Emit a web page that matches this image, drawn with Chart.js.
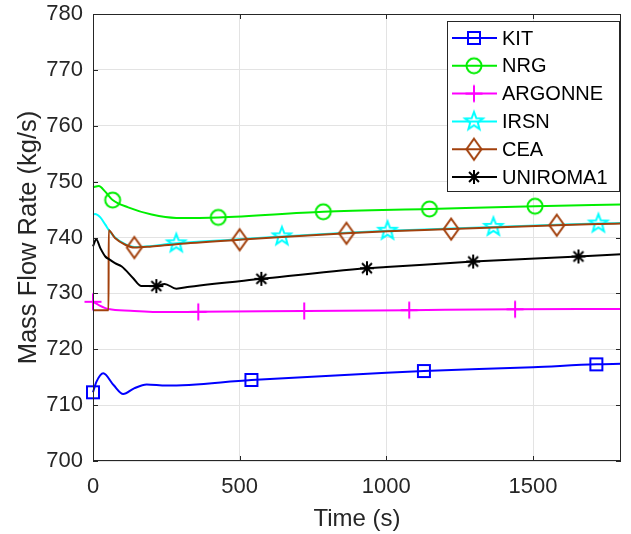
<!DOCTYPE html>
<html>
<head>
<meta charset="utf-8">
<script src="https://cdn.jsdelivr.net/npm/chart.js@4"></script>
<style>
  html, body { margin: 0; padding: 0; background: #fff; }
  #wrap { width: 631px; height: 534px; }
</style>
</head>
<body>
<div id="wrap"><canvas id="flowChart" width="631" height="534"></canvas></div>
<script>
const xTicks = [0, 500, 1000, 1500];
const yTicks = [700, 710, 720, 730, 740, 750, 760, 770, 780];

const kitT = [0, 12, 35, 70, 103, 140, 183, 250, 540, 1000, 1128, 1500, 1716, 1800];
const kitY = [712.3, 714.2, 715.7, 713.6, 712.0, 713.0, 713.7, 713.5, 714.5, 715.8, 716.1, 716.8, 717.3, 717.4];
const kitMarks = [0, 540, 1128, 1716];

const nrgT = [0, 20, 40, 67, 120, 200, 284, 427, 785, 1147, 1507, 1800];
const nrgY = [749.0, 749.2, 748.3, 746.7, 745.4, 744.1, 743.5, 743.6, 744.6, 745.1, 745.6, 745.9];
const nrgMarks = [67, 427, 785, 1147, 1507];

const argT = [0, 20, 53, 127, 250, 359, 720, 1078, 1439, 1800];
const argY = [728.5, 727.9, 727.2, 726.9, 726.65, 726.7, 726.85, 727.0, 727.15, 727.2];
const argMarks = [0, 359, 720, 1078, 1439];

const irsnT = [0, 7, 25, 42, 53, 75, 110, 141, 284, 500, 644, 864, 1004, 1221, 1365, 1581, 1723, 1800];
const irsnY = [744.1, 744.2, 743.6, 742.3, 741.4, 740.0, 738.8, 738.3, 738.95, 739.7, 740.2, 740.85, 741.2, 741.6, 741.9, 742.3, 742.5, 742.6];
const irsnMarks = [284, 644, 1004, 1365, 1723];

const ceaT = [0, 53, 53.5, 75, 110, 141, 200, 284, 500, 644, 864, 1004, 1221, 1365, 1581, 1723, 1800];
const ceaY = [727.0, 727.0, 741.3, 739.9, 738.7, 738.2, 738.4, 738.8, 739.6, 740.1, 740.75, 741.1, 741.5, 741.8, 742.2, 742.4, 742.5];
const ceaMarks = [141, 500, 864, 1221, 1581];

const uniT = [0, 11, 25, 42, 58, 75, 98, 137, 165, 216, 244, 284, 329, 574, 934, 1000, 1296, 1655, 1800];
const uniY = [738.4, 739.7, 738.1, 736.6, 736.0, 735.4, 734.8, 732.7, 731.3, 731.3, 731.7, 730.85, 731.2, 732.6, 734.5, 734.7, 735.7, 736.6, 737.0];
const uniMarks = [216, 574, 934, 1296, 1655];

const FONT = "'Liberation Sans', Arial, sans-serif";
const AXIS = '#262626';

function makeMarker(kind, color) {
    const c = document.createElement('canvas');
    c.width = 26; c.height = 26;
    const g = c.getContext('2d');
    g.translate(13, 13);
    g.strokeStyle = color;
    g.lineWidth = 2;
    g.beginPath();
    if (kind === 'square') {
        g.rect(-6, -6, 12, 12);
    } else if (kind === 'circle') {
        g.arc(0, 0, 7.5, 0, Math.PI * 2);
    } else if (kind === 'plus') {
        g.moveTo(0, -8.5); g.lineTo(0, 8.5);
        g.moveTo(-8.5, 0); g.lineTo(8.5, 0);
    } else if (kind === 'pentagram') {
        for (let i = 0; i < 10; i++) {
            const a = -Math.PI / 2 + i * Math.PI / 5;
            const r = i % 2 ? 4 : 9.5;
            if (i === 0) g.moveTo(r * Math.cos(a), r * Math.sin(a));
            else g.lineTo(r * Math.cos(a), r * Math.sin(a));
        }
        g.closePath();
    } else if (kind === 'diamond') {
        g.moveTo(0, -10.5); g.lineTo(7.5, 0); g.lineTo(0, 10.5); g.lineTo(-7.5, 0);
        g.closePath();
    } else if (kind === 'asterisk') {
        const r = 7;
        for (let i = 0; i < 4; i++) {
            const a = i * Math.PI / 4;
            g.moveTo(-r * Math.cos(a), -r * Math.sin(a));
            g.lineTo(r * Math.cos(a), r * Math.sin(a));
        }
    }
    g.stroke();
    return c;
}

const series = [
    { label: 'KIT', t: kitT, y: kitY, marks: kitMarks, color: '#0000ff', marker: 'square' },
    { label: 'NRG', t: nrgT, y: nrgY, marks: nrgMarks, color: '#00ee00', marker: 'circle' },
    { label: 'ARGONNE', t: argT, y: argY, marks: argMarks, color: '#ff00ff', marker: 'plus' },
    { label: 'IRSN', t: irsnT, y: irsnY, marks: irsnMarks, color: '#00ffff', marker: 'pentagram' },
    { label: 'CEA', t: ceaT, y: ceaY, marks: ceaMarks, color: '#a2400c', marker: 'diamond' },
    { label: 'UNIROMA1', t: uniT, y: uniY, marks: uniMarks, color: '#000000', marker: 'asterisk' }
];

const datasets = series.map((s, i) => ({
    label: s.label,
    data: s.t.map((t, k) => ({ x: t, y: s.y[k] })),
    borderColor: s.color,
    borderWidth: 2,
    cubicInterpolationMode: 'monotone',
    pointStyle: makeMarker(s.marker, s.color),
    pointRadius: ctx => (ctx.type === 'data' && s.marks.includes(ctx.raw.x)) ? 8 : 0,
    clip: false,
    order: series.length - i
}));

// MATLAB style box with inward ticks
const framePlugin = {
    id: 'frame',
    afterDatasetsDraw(chart) {
        const { ctx, chartArea: a, scales } = chart;
        ctx.save();
        ctx.strokeStyle = AXIS;
        ctx.lineWidth = 1;
        ctx.beginPath();
        ctx.moveTo(a.left, a.top + 0.5); ctx.lineTo(a.right, a.top + 0.5);
        ctx.moveTo(a.right - 0.5, a.top); ctx.lineTo(a.right - 0.5, a.bottom);
        ctx.moveTo(a.left, a.bottom - 0.5); ctx.lineTo(a.right, a.bottom - 0.5);
        ctx.moveTo(a.left + 0.5, a.top); ctx.lineTo(a.left + 0.5, a.bottom);
        xTicks.forEach(v => {
            const px = Math.round(scales.x.getPixelForValue(v)) + 0.5;
            ctx.moveTo(px, a.bottom); ctx.lineTo(px, a.bottom - 5);
            ctx.moveTo(px, a.top); ctx.lineTo(px, a.top + 5);
        });
        yTicks.forEach(v => {
            const py = Math.round(scales.y.getPixelForValue(v)) + 0.5;
            ctx.moveTo(a.left, py); ctx.lineTo(a.left + 5, py);
            ctx.moveTo(a.right, py); ctx.lineTo(a.right - 5, py);
        });
        ctx.stroke();
        ctx.restore();
    },
    afterDraw(chart) {
        // legend box inside the axes, upper right
        const { ctx } = chart;
        const bx = 447, by = 21, bw = 172, bh = 170, rowH = 27.8;
        ctx.save();
        ctx.fillStyle = '#fff';
        ctx.fillRect(bx, by, bw, bh);
        ctx.strokeStyle = AXIS;
        ctx.lineWidth = 1;
        ctx.strokeRect(bx + 0.5, by + 0.5, bw, bh);
        ctx.font = '20px ' + FONT;
        ctx.textBaseline = 'middle';
        ctx.fillStyle = '#000';
        chart.data.datasets.forEach((d, i) => {
            const cy = by + 17 + i * rowH;
            ctx.strokeStyle = d.borderColor;
            ctx.lineWidth = 2;
            ctx.beginPath();
            ctx.moveTo(452, cy); ctx.lineTo(497, cy);
            ctx.stroke();
            const m = d.pointStyle;
            ctx.drawImage(m, 474 - m.width / 2, cy - m.height / 2);
            ctx.fillText(d.label, 502, cy + 1);
        });
        ctx.restore();
    }
};

new Chart(document.getElementById('flowChart').getContext('2d'), {
    type: 'line',
    data: { datasets: datasets },
    options: {
        responsive: false,
        animation: false,
        events: [],
        layout: { padding: { top: 14, right: 6, left: 0, bottom: 0 } },
        plugins: { legend: { display: false }, tooltip: { enabled: false } },
        scales: {
            x: {
                type: 'linear',
                min: 0,
                max: 1800,
                afterBuildTicks: s => { s.ticks = xTicks.map(v => ({ value: v })); },
                afterFit: s => { s.height = 73; s.paddingLeft = 0; s.paddingRight = 0; },
                grid: { color: '#e3e3e3', lineWidth: 1, drawTicks: false },
                border: { display: false },
                ticks: { color: AXIS, font: { family: FONT, size: 22 }, padding: 13, maxRotation: 0, callback: v => String(v) },
                title: { display: true, text: 'Time (s)', color: AXIS, font: { family: FONT, size: 24 }, padding: { top: 0, bottom: 0 } }
            },
            y: {
                type: 'linear',
                min: 700,
                max: 780,
                afterBuildTicks: s => { s.ticks = yTicks.map(v => ({ value: v })); },
                afterFit: s => { s.width = 93; s.paddingTop = 0; s.paddingBottom = 0; },
                grid: { color: '#e3e3e3', lineWidth: 1, drawTicks: false },
                border: { display: false },
                ticks: { color: AXIS, font: { family: FONT, size: 22 }, padding: 10 },
                title: { display: true, text: 'Mass Flow Rate (kg/s)', color: AXIS, font: { family: FONT, size: 25.5 }, padding: { top: 14, bottom: 0 } }
            }
        }
    },
    plugins: [framePlugin]
});
</script>
</body>
</html>
